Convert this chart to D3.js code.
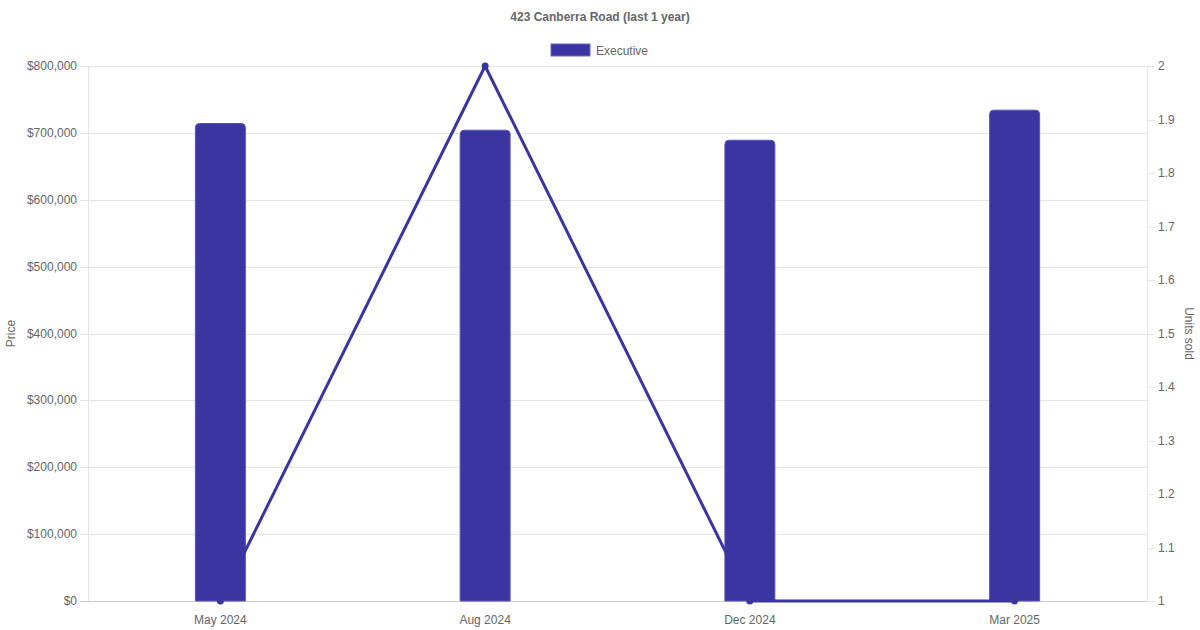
<!DOCTYPE html>
<html><head><meta charset="utf-8">
<script src="https://cdn.jsdelivr.net/npm/d3@7"></script>
<style>body{margin:0;background:#fff;font-family:"Liberation Sans",Arial,sans-serif}</style>
</head><body>
<svg id="c" width="1200" height="630"></svg>
<script>
const categories = ["May 2024", "Aug 2024", "Dec 2024", "Mar 2025"];
const priceValues = [714000, 704000, 689000, 734000];
const unitsSold = [1, 2, 1, 1];
const priceTicks = [0,100000,200000,300000,400000,500000,600000,700000,800000];
const unitTicks = [1,1.1,1.2,1.3,1.4,1.5,1.6,1.7,1.8,1.9,2];
const seriesName = "Executive";
const titleText = "423 Canberra Road (last 1 year)";

const col = "#3a35a0";
const grid = "#e5e5e5";
const txt = "#666";
const svg = d3.select("#c");
const L = 88, R = 1147, T = 66, B = 601;

const x = d3.scaleBand().domain(categories).range([L, R]);
const yL = d3.scaleLinear().domain([0, 800000]).range([B, T]);
const yR = d3.scaleLinear().domain([1, 2]).range([B, T]);

// title
svg.append("text").attr("x", 600).attr("y", 21).attr("text-anchor","middle")
  .attr("font-size",12).attr("font-weight","bold").attr("fill",txt).text(titleText);
// legend
svg.append("rect").attr("x",551).attr("y",44).attr("width",39).attr("height",12)
  .attr("fill",col).attr("stroke","#6a66c0").attr("stroke-width",1);
svg.append("text").attr("x",596).attr("y",54.5).attr("font-size",12).attr("fill",txt).text(seriesName);

// grid
svg.append("g").selectAll("line").data(priceTicks).join("line")
  .attr("x1",L-8).attr("x2",R).attr("y1",d=>Math.round(yL(d))+0.5).attr("y2",d=>Math.round(yL(d))+0.5)
  .attr("stroke",d=>d===0?"#ccc":grid).attr("stroke-width",1);
svg.append("g").selectAll("line").data(unitTicks).join("line")
  .attr("x1",R).attr("x2",R+8).attr("y1",d=>Math.round(yR(d))+0.5).attr("y2",d=>Math.round(yR(d))+0.5)
  .attr("stroke",grid);
svg.append("line").attr("x1",L+0.5).attr("x2",L+0.5).attr("y1",T).attr("y2",B).attr("stroke",grid);
svg.append("line").attr("x1",R+0.5).attr("x2",R+0.5).attr("y1",T).attr("y2",B).attr("stroke",grid);

// left labels
const fmt = d => "$" + d3.format(",")(d);
svg.append("g").selectAll("text").data(priceTicks).join("text")
  .attr("x",L-11).attr("y",d=>yL(d)+4).attr("text-anchor","end").attr("font-size",12).attr("fill",txt).text(fmt);
svg.append("g").selectAll("text").data(unitTicks).join("text")
  .attr("x",R+11).attr("y",d=>yR(d)+4).attr("font-size",12).attr("fill",txt).text(d=>d3.format("")(d));
// x labels
svg.append("g").selectAll("text").data(categories).join("text")
  .attr("x",d=>x(d)+x.bandwidth()/2).attr("y",624).attr("text-anchor","middle")
  .attr("font-size",12).attr("fill",txt).text(d=>d);
// axis titles
svg.append("text").attr("transform","translate(15,"+((T+B)/2)+") rotate(-90)").attr("text-anchor","middle")
  .attr("font-size",12).attr("fill",txt).text("Price");
svg.append("text").attr("transform","translate(1185,"+((T+B)/2)+") rotate(90)").attr("text-anchor","middle")
  .attr("font-size",12).attr("fill",txt).text("Units sold");

// bars with rounded top
const bw = 50, r = 4;
svg.append("g").selectAll("path").data(categories).join("path")
  .attr("d",(d,i)=>{
    const cx = x(d)+x.bandwidth()/2, x0 = cx-bw/2, x1 = cx+bw/2, yt = yL(priceValues[i]), yb = yL(0);
    return `M${x0},${yb}L${x0},${yt+r}Q${x0},${yt} ${x0+r},${yt}L${x1-r},${yt}Q${x1},${yt} ${x1},${yt+r}L${x1},${yb}Z`;
  })
  .attr("fill",col).attr("stroke","#5a56b8").attr("stroke-width",1);

// line
const pts = categories.map((d,i)=>[x(d)+x.bandwidth()/2, yR(unitsSold[i])]);
svg.append("path").attr("d",d3.line()(pts)).attr("fill","none").attr("stroke",col).attr("stroke-width",3);
svg.append("g").selectAll("circle").data(pts).join("circle")
  .attr("cx",d=>d[0]).attr("cy",d=>d[1]).attr("r",3.5).attr("fill",col);
</script>
</body></html>
